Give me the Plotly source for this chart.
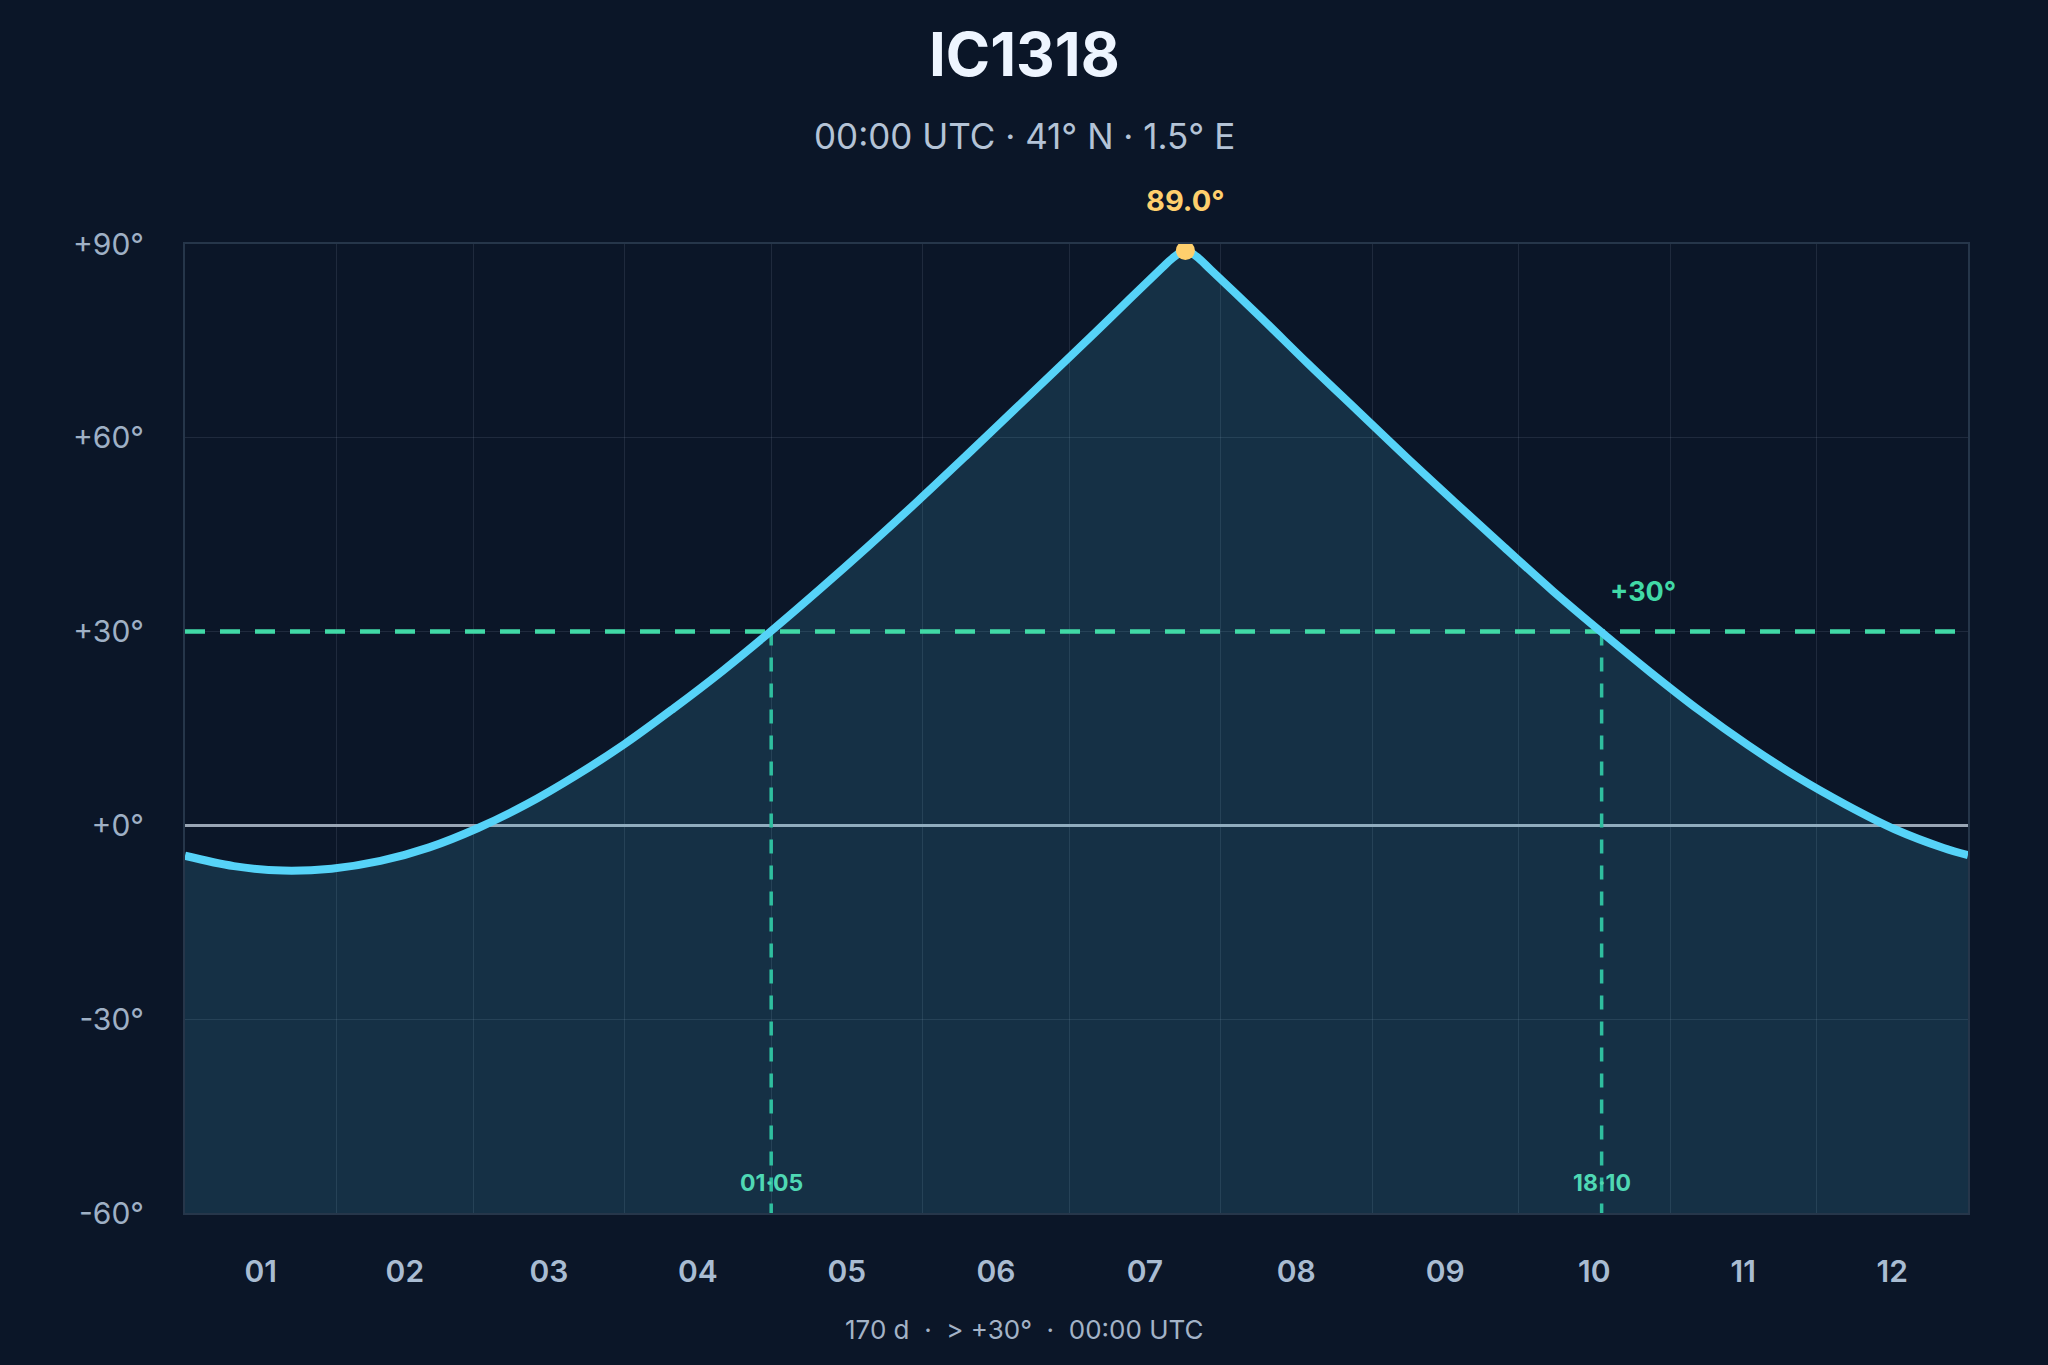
import plotly.graph_objects as go

# Altitude of IC1318 at 00:00 UTC through the year (41° N, 1.5° E)
dates = [
    "2025-01-01", "2025-01-11", "2025-01-21", "2025-01-31", "2025-02-10",
    "2025-02-20", "2025-03-02", "2025-03-12", "2025-03-22", "2025-04-01",
    "2025-04-11", "2025-04-21", "2025-05-01", "2025-05-11", "2025-05-21",
    "2025-05-31", "2025-06-10", "2025-06-20", "2025-06-30", "2025-07-10",
    "2025-07-20", "2025-07-22", "2025-07-24 19:00", "2025-07-27", "2025-07-30",
    "2025-08-09", "2025-08-19", "2025-08-29", "2025-09-08", "2025-09-18",
    "2025-09-28", "2025-10-08", "2025-10-18", "2025-10-28", "2025-11-07",
    "2025-11-17", "2025-11-27", "2025-12-07", "2025-12-17", "2025-12-27",
    "2026-01-01",
]
altitude = [
    -4.7, -6.3, -7.0, -6.7, -5.5,
    -3.4, -0.4, 3.3, 7.7, 12.6,
    18.1, 23.9, 30.1, 36.6, 43.3,
    50.2, 57.3, 64.5, 71.7, 79.0,
    86.3, 87.7, 89.0, 88.1, 86.0,
    78.8, 71.4, 64.2, 57.0, 50.0,
    43.1, 36.3, 29.9, 23.7, 17.8,
    12.4, 7.5, 3.2, -0.6, -3.5,
    -4.6,
]

peak_date = "2025-07-24 19:00"
peak_alt = 89.0

threshold = 30
cross_dates = ["2025-05-01", "2025-10-18"]
cross_labels = ["01·05", "18·10"]

y_ticks = [-60, -30, 0, 30, 60, 90]
y_ticktext = ["-60°", "-30°", "+0°", "+30°", "+60°", "+90°"]
x_range = ["2025-01-01", "2026-01-01"]
y_range = [-60, 90]

BG = "#0b1628"
CYAN = "#56d3f8"
GREEN = "#41d9a6"
FONT = "Inter"
MID = 0.4706  # page centre, in plot-area fractions

fig = go.Figure()

# invisible floor so the fill reaches the bottom of the plot
fig.add_trace(go.Scatter(
    x=x_range, y=[y_range[0], y_range[0]], mode="lines",
    line=dict(width=0), hoverinfo="skip", showlegend=False
))
fig.add_trace(go.Scatter(
    x=dates, y=altitude, mode="lines", fill="tonexty",
    fillcolor="rgba(86,211,248,0.14)", line=dict(width=0, shape="spline", smoothing=1),
    hoverinfo="skip", showlegend=False
))

# threshold line
fig.add_trace(go.Scatter(
    x=x_range, y=[threshold, threshold], mode="lines",
    line=dict(color=GREEN, width=4.5, dash="20px,15px"),
    hoverinfo="skip", showlegend=False
))

# rise / set verticals
for d in cross_dates:
    fig.add_trace(go.Scatter(
        x=[d, d], y=[threshold, y_range[0]], mode="lines",
        line=dict(color="#2fbf9f", width=3.5, dash="14px,12px"),
        hoverinfo="skip", showlegend=False
    ))

# altitude curve
fig.add_trace(go.Scatter(
    x=dates, y=altitude, mode="lines",
    line=dict(color=CYAN, width=8, shape="spline", smoothing=1),
    showlegend=False
))

# culmination
fig.add_trace(go.Scatter(
    x=[peak_date], y=[peak_alt], mode="markers",
    marker=dict(color="#fecf6d", size=19),
    showlegend=False
))

annotations = [
    dict(text="<b>IC1318</b>", x=MID, y=1.196, xref="paper", yref="paper",
         xanchor="center", yanchor="middle", showarrow=False,
         font=dict(family=FONT, size=60, color="#eef5ff")),
    dict(text="00:00 UTC · 41° N · 1.5° E", x=MID, y=1.1115, xref="paper", yref="paper",
         xanchor="center", yanchor="middle", showarrow=False,
         font=dict(family=FONT, size=35, color="#b4c3d6")),
    dict(text="<b>%.1f°</b>" % peak_alt, x=peak_date, y=peak_alt, showarrow=False,
         yanchor="middle", yshift=50, font=dict(family=FONT, size=29, color="#fecf6d")),
    dict(text="<b>+%d°</b>" % threshold, x=cross_dates[1], y=threshold, showarrow=False,
         xanchor="left", yanchor="middle", xshift=6, yshift=40,
         font=dict(family=FONT, size=27, color=GREEN)),
    dict(text="170 d\u00a0 · \u00a0> +30°\u00a0 · \u00a000:00 UTC", x=MID, y=-0.1207,
         xref="paper", yref="paper", xanchor="center", yanchor="middle", showarrow=False,
         font=dict(family=FONT, size=26, color="#a3b3c7")),
]
for d, lab in zip(cross_dates, cross_labels):
    annotations.append(dict(
        text="<b>%s</b>" % lab, x=d, y=y_range[0], showarrow=False,
        yanchor="middle", yshift=30,
        font=dict(family=FONT, size=23, color="#4fd8b4")
    ))

fig.update_layout(
    width=2048,
    height=1365,
    margin=dict(l=185, r=80, t=244, b=152),
    paper_bgcolor=BG,
    plot_bgcolor=BG,
    font=dict(family=FONT, color="#9fb0c5"),
    annotations=annotations,
    xaxis=dict(
        type="date", range=x_range, tick0="2025-01-01", dtick="M1",
        tickformat="%m", ticklabelmode="period", ticklabelstandoff=31,
        showgrid=True, gridcolor="rgba(148,163,184,0.15)", gridwidth=1,
        showline=True, linecolor="#26364a", linewidth=2, mirror=True,
        tickfont=dict(family=FONT, size=30, color="#a9bcd2", weight=600),
        zeroline=False, fixedrange=True,
    ),
    yaxis=dict(
        range=y_range, tickvals=y_ticks, ticktext=y_ticktext, ticklabelstandoff=33,
        showgrid=True, gridcolor="rgba(148,163,184,0.15)", gridwidth=1,
        showline=True, linecolor="#26364a", linewidth=2, mirror=True,
        zeroline=True, zerolinecolor="#9aa6b5", zerolinewidth=3,
        tickfont=dict(family=FONT, size=30, color="#9fb0c5"),
        fixedrange=True,
    ),
)

fig.write_html("out.html", config={"displayModeBar": False},
               post_script="document.body.style.margin='0';")
